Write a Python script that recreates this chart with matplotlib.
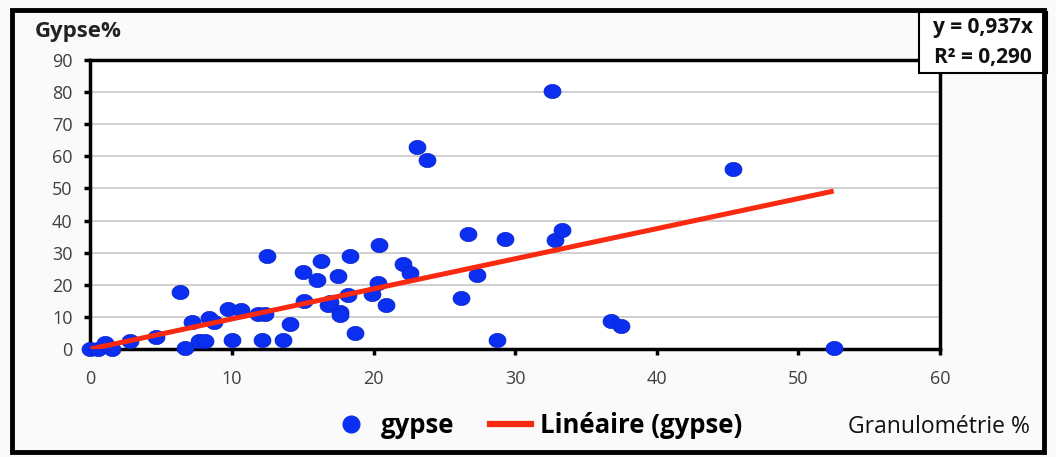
import numpy as np
import matplotlib
matplotlib.use('Agg')
from matplotlib import pyplot as plt
from matplotlib.path import Path
from matplotlib.patches import Rectangle
from matplotlib.lines import Line2D

# granulometry (%) vs gypsum (%) samples
granulo = [0.0, 0.5, 1.0, 1.5, 2.8, 4.6, 6.3, 6.7, 7.2, 7.7, 8.1, 8.4, 8.7,
           9.7, 10.0, 10.6, 11.8, 12.1, 12.5, 12.3, 13.6, 14.1, 15.0, 15.1,
           16.0, 16.3, 16.8, 17.5, 17.6, 18.2, 18.3, 18.7, 19.9, 20.3, 20.4,
           20.9, 22.1, 22.6, 23.1, 23.8, 26.2, 26.7, 27.3, 28.7, 29.3, 32.6,
           32.8, 33.3, 36.8, 37.5, 45.4, 52.5, 17.6, 16.9]
gypse = [0.0, 0.0, 1.8, 0.0, 2.4, 3.7, 17.7, 0.3, 8.3, 2.4, 2.4, 9.6, 8.3,
         12.6, 2.7, 12.0, 10.8, 2.7, 29.0, 11.0, 2.7, 7.7, 24.0, 15.0,
         21.5, 27.3, 13.6, 22.6, 11.5, 16.8, 28.9, 4.9, 17.0, 20.7, 32.3,
         13.6, 26.4, 23.6, 62.8, 58.8, 16.0, 35.7, 23.0, 2.7, 34.2, 80.4,
         33.9, 37.0, 8.6, 7.1, 56.0, 0.2, 10.5, 14.5]
slope = 0.937
r2 = 0.290
fit_x = [0, 52.5]

FONT = 'Open Sans'
BLUE = '#0b2ff0'
RED = '#fa2a10'

fig = plt.figure(figsize=(10.56, 4.57), dpi=100)
fig.patch.set_facecolor('#fafafa')
ax = fig.add_axes([0.0857, 0.2363, 0.8043, 0.6324])
ax.set_facecolor('white')

# slightly wide ellipse marker
t = np.linspace(0, 2*np.pi, 60)
ell = Path(np.column_stack([1.2*np.cos(t), np.sin(t)]), closed=True)

ax.scatter(granulo, gypse, marker=ell, s=150, color=BLUE, zorder=3,
           edgecolors='#0a22c8', linewidths=0.5, clip_on=False)
fx = np.array(fit_x)
ax.plot(fx, slope*fx, color=RED, lw=3.6, zorder=4, solid_capstyle='butt')

ax.set_xlim(0, 60)
ax.set_ylim(0, 90)
ax.set_xticks(range(0, 61, 10))
ax.set_yticks(range(0, 91, 10))
ax.yaxis.grid(True, color='#c8c8c8', lw=1.2)
ax.set_axisbelow(True)
for s in ax.spines.values():
    s.set_color('black')
    s.set_linewidth(2.5)
ax.tick_params(axis='both', direction='out', length=4, width=2.5,
               labelsize=13, labelcolor='#404040')
ax.tick_params(axis='y', pad=9)
ax.tick_params(axis='x', pad=11)
for lab in ax.get_xticklabels() + ax.get_yticklabels():
    lab.set_family(FONT)

fig.text(0.033, 0.93, 'Gypse%', fontsize=16, fontweight='bold',
         family=FONT, va='center', color='#222222')

# equation box, drawn over the top-right corner of the frame
fig.add_artist(Rectangle((0.870, 0.840), 0.1215, 0.134, transform=fig.transFigure,
                         fc='white', ec='black', lw=1.5, zorder=5))
eq1 = 'y = %sx' % str(slope).replace('.', ',')
eq2 = 'R² = %s' % ('%.3f' % r2).replace('.', ',')
fig.text(0.931, 0.940, eq1, fontsize=15, fontweight='bold', family=FONT,
         ha='center', va='center', color='#111111', zorder=6)
fig.text(0.931, 0.875, eq2, fontsize=15, fontweight='bold', family=FONT,
         ha='center', va='center', color='#111111', zorder=6)

handles = [Line2D([], [], marker='o', ls='none', color=BLUE, markersize=12),
           Line2D([], [], color=RED, lw=4.5)]
fig.legend(handles, ['gypse', 'Linéaire (gypse)'], loc='center', ncol=2,
           bbox_to_anchor=(0.508, 0.070), frameon=False, handlelength=1.6,
           columnspacing=1.4, handletextpad=0.35,
           prop={'family': FONT, 'weight': 'bold', 'size': 18.5})
fig.text(0.975, 0.066, 'Granulométrie %', fontsize=16.5, family=FONT,
         ha='right', va='center', color='#111111')

fig.add_artist(Rectangle((0.011, 0.012), 0.978, 0.966, transform=fig.transFigure,
                         fill=False, ec='black', lw=3.5, zorder=7))

fig.savefig('out.png', dpi=100, facecolor=fig.get_facecolor())
